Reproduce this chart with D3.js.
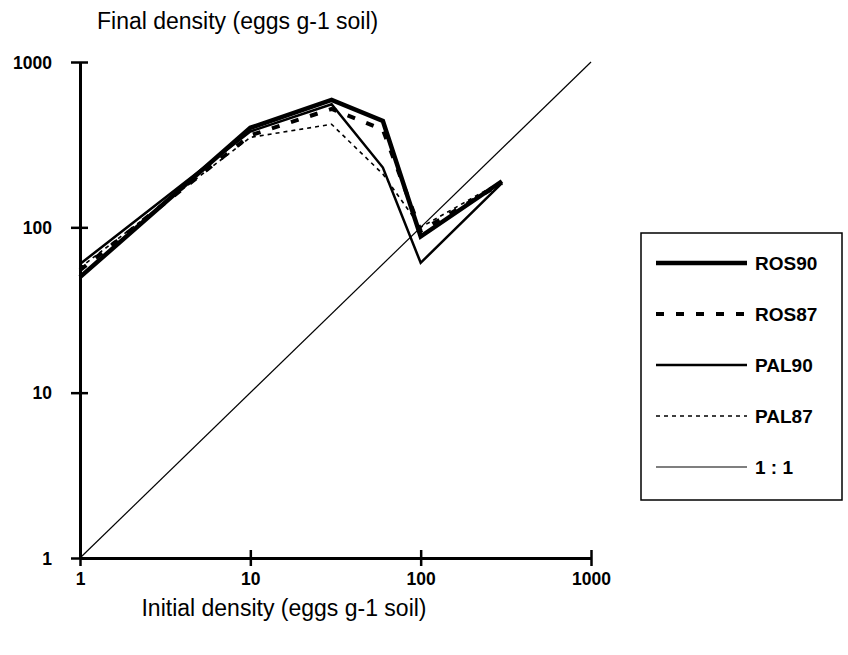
<!DOCTYPE html>
<html><head><meta charset="utf-8">
<script src="https://cdn.jsdelivr.net/npm/d3@7"></script>
<style>body{margin:0;background:#fff}svg{font-family:"Liberation Sans",Arial,sans-serif}</style>
</head><body><svg id="c" width="848" height="655"></svg>
<script>
const initialDensity = [1, 10, 30, 60, 100, 300];
const ros90 = [50, 400, 590, 440, 88, 190];
const ros87 = [55, 360, 520, 390, 95, 185];
const pal90 = [60, 380, 555, 230, 61, 185];
const pal87 = [57, 350, 420, 210, 100, 190];
const oneToOne = [1, 1000];
const tickValues = [1, 10, 100, 1000];
const seriesNames = ["ROS90", "ROS87", "PAL90", "PAL87", "1 : 1"];

const svg = d3.select("#c");
const x = d3.scaleLog().domain([1, 1000]).range([80, 591]);
const y = d3.scaleLog().domain([1, 1000]).range([558, 62]);

const styles = [
  {w: 4.5, dash: null},
  {w: 4, dash: "8,12"},
  {w: 2.5, dash: null},
  {w: 1.6, dash: "4,4"},
  {w: 1.2, dash: null}
];
const series = [ros90, ros87, pal90, pal87];

const line = d3.line().x(d => x(d[0])).y(d => y(d[1]));

svg.append("path").attr("d", line(oneToOne.map(v => [v, v])))
  .attr("fill", "none").attr("stroke", "#000").attr("stroke-width", styles[4].w);

[3, 2, 1, 0].forEach(i => {
  svg.append("path")
    .attr("d", line(initialDensity.map((v, j) => [v, series[i][j]])))
    .attr("fill", "none").attr("stroke", "#000")
    .attr("stroke-width", styles[i].w)
    .attr("stroke-dasharray", styles[i].dash)
    .attr("stroke-linejoin", "miter");
});

const xAxis = d3.axisBottom(x).tickValues(tickValues).tickFormat(d3.format("d")).tickSize(0);
const yAxis = d3.axisLeft(y).tickValues(tickValues).tickFormat(d3.format("d")).tickSize(0);
const gx = svg.append("g").attr("transform", "translate(0,558)").call(xAxis);
const gy = svg.append("g").attr("transform", "translate(80,0)").call(yAxis);
[gx, gy].forEach(g => {
  g.select(".domain").attr("stroke", "#000").attr("stroke-width", 3);
  g.selectAll("text").attr("fill", "#000").style("font-size", "17.5px").style("font-weight", "bold");
});
gx.selectAll("text").attr("dy", 0).attr("y", 27);
gy.selectAll("text").attr("x", -28).attr("dy", "0.35em");
gx.selectAll(".tick").append("line").attr("y1", -8).attr("y2", 8).attr("stroke", "#000").attr("stroke-width", 2.5);
gy.selectAll(".tick").append("line").attr("x1", -9).attr("x2", 8).attr("stroke", "#000").attr("stroke-width", 2.5);

svg.append("text").attr("x", 97).attr("y", 29).text("Final density (eggs g-1 soil)")
  .style("font-size", "23px");
svg.append("text").attr("x", 284).attr("y", 616).attr("text-anchor", "middle")
  .text("Initial density (eggs g-1 soil)").style("font-size", "23px");

svg.append("rect").attr("x", 641).attr("y", 233).attr("width", 201).attr("height", 267)
  .attr("fill", "#fff").attr("stroke", "#000").attr("stroke-width", 1.5);
seriesNames.forEach((n, i) => {
  const ly = 263 + i * 51;
  svg.append("line").attr("x1", 656).attr("x2", 747).attr("y1", ly).attr("y2", ly)
    .attr("stroke", "#000").attr("stroke-width", styles[i].w)
    .attr("stroke-dasharray", styles[i].dash);
  svg.append("text").attr("x", 755).attr("y", ly).attr("dy", "0.35em")
    .text(n).style("font-size", "19px").style("font-weight", "bold");
});
</script></body></html>
